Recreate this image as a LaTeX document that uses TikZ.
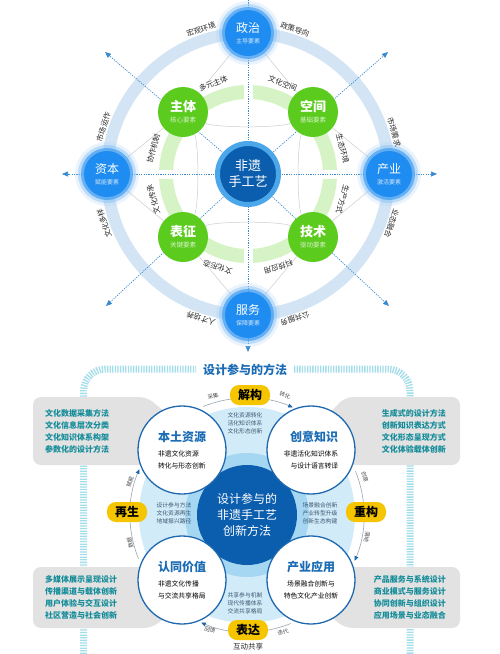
\documentclass[tikz,border=0pt]{standalone}
\usepackage{fontspec}
\setmainfont{Noto Sans CJK SC}
\usetikzlibrary{arrows.meta,calc,backgrounds}
\definecolor{ringblue}{HTML}{D3E5F5}
\definecolor{ringgreen}{HTML}{D6F3C6}
\definecolor{nodeblue}{HTML}{1E8CF0}
\definecolor{nodegreen}{HTML}{5BCB1E}
\definecolor{darkblue}{HTML}{0B5DAE}
\definecolor{midblue}{HTML}{4BA6EA}
\definecolor{axisblue}{HTML}{3A8AD0}
\definecolor{thingrey}{HTML}{C9CED3}
\definecolor{lblcol}{HTML}{2A2A2A}
\definecolor{stripecol}{HTML}{A4DDEA}
\definecolor{boxgrey}{HTML}{E2E2E2}
\definecolor{boxtext}{HTML}{138C99}
\definecolor{paleblue}{HTML}{D2EBF9}
\definecolor{ringmid}{HTML}{A5D6F2}
\definecolor{circblue}{HTML}{1D68AE}
\definecolor{pillcol}{HTML}{F5C500}
\definecolor{titleblue}{HTML}{1B6CB5}
\definecolor{smalltxt}{HTML}{3C5770}
\definecolor{arcgrey}{HTML}{9AA6B0}
\newcommand\glownode[5]{%
  \fill[nodeblue!40, opacity=.22] (#2,#3) circle[radius=32];
  \fill[nodeblue!60, opacity=.4] (#2,#3) circle[radius=29];
  \fill[nodeblue!85, opacity=.7] (#2,#3) circle[radius=26];
  \node[bluenode] (#1) at (#2,#3) {\fontsize{12}{13}\selectfont #4\\[-1pt]\fontsize{6}{7}\selectfont\color{white!80!nodeblue}#5};}
\newcommand\greennd[5]{%
  \node[greennode] (#1) at (#2,#3) {\bfseries\fontsize{13}{14}\selectfont #4\\[-1pt]\mdseries\fontsize{6.5}{7}\selectfont\color{white!75!nodegreen}#5};}
\newcommand\subf{\mdseries\color{black}\fontsize{6.8}{9}\selectfont}
\newcommand\wtext[3]{\bfseries\color{titleblue}\fontsize{12}{14}\selectfont #1\\[3pt]\subf #2\\\subf #3}
\begin{document}
\begin{tikzpicture}[x=1pt,y=-1pt,
  bluenode/.style={circle,fill=nodeblue,minimum size=46pt,inner sep=0pt,text=white,align=center},
  greennode/.style={circle,fill=nodegreen,minimum size=50pt,inner sep=0pt,text=white,align=center},
  ringlbl/.style={text=lblcol,font=\fontsize{7.5}{8}\selectfont,inner sep=0pt},
  axisline/.style={axisblue,line width=0.7pt,dash pattern=on 1.2pt off 1.2pt},
  axisarrow/.style={axisline,-{Triangle[length=6pt,width=5pt]}},
  thinline/.style={thingrey,line width=0.5pt},
  boxtxt/.style={text=boxtext,font=\bfseries\fontsize{8}{12}\selectfont,inner sep=0pt},
  wcirc/.style={circle,draw=circblue,line width=1.3pt,fill=white,minimum size=88pt,inner sep=0pt},
  pillst/.style={rounded corners=9pt,fill=pillcol,minimum width=40pt,minimum height=20pt,inner sep=0pt,font=\bfseries\fontsize{12}{13}\selectfont,text=black},
  smallblk/.style={text=smalltxt,font=\fontsize{5.8}{8}\selectfont,align=center,inner sep=0pt},
  arclbl/.style={text=black!70,font=\fontsize{5.5}{6}\selectfont,inner sep=0pt},
  cyc/.style={arcgrey,line width=0.6pt,-{Triangle[length=4.5pt,width=4pt,color=circblue]}}
]
\useasboundingbox (0,0) rectangle (500,654);
\coordinate (C) at (248,174);
% ---------- top diagram nodes ----------
\glownode{zz}{248}{33}{政治}{主导要素}
\glownode{zb}{107}{174}{资本}{赋能要素}
\glownode{cy}{389}{174}{产业}{激活要素}
\glownode{fw}{248}{315}{服务}{保障要素}
\greennd{zt}{183}{112}{主体}{核心要素}
\greennd{kj}{313}{112}{空间}{基础要素}
\greennd{bz}{183}{237}{表征}{关键要素}
\greennd{js}{313}{237}{技术}{驱动要素}
\node[circle,fill=darkblue,draw=midblue,line width=5pt,minimum size=61pt,inner sep=0pt,text=white,align=center,font=\fontsize{13}{16}\selectfont] (core) at (C) {非遗\\手工艺};
\begin{scope}[on background layer]
  \fill[white] (0,0) rectangle (500,654);
  \draw[ringblue,line width=12pt] (C) circle[radius=141];
  \draw[ringgreen,line width=14pt] (C) circle[radius=82];
  \draw[white,line width=9pt] (248,84) -- (248,100);
  \draw[white,line width=9pt] (248,248) -- (248,264);
  \draw[white,line width=9pt] (158,174) -- (174,174);
  \draw[white,line width=9pt] (322,174) -- (338,174);
  % thin connectors
  \draw[thinline] (zz) -- (zt);
  \draw[thinline] (zz) -- (kj);
  \draw[thinline] (zb) -- (zt);
  \draw[thinline] (zb) -- (bz);
  \draw[thinline] (cy) -- (kj);
  \draw[thinline] (cy) -- (js);
  \draw[thinline] (fw) -- (bz);
  \draw[thinline] (fw) -- (js);
  \draw[thinline] (zt) .. controls (215,128) and (281,128) .. (kj);
  \draw[thinline] (bz) .. controls (215,221) and (281,221) .. (js);
  \draw[thinline] (zt) .. controls (199,143) and (199,206) .. (bz);
  \draw[thinline] (kj) .. controls (297,143) and (297,206) .. (js);
  % axes
  \coordinate (topend) at (248,0);
  \coordinate (downtip) at (248,352);
  \coordinate (lefttip) at (62,174);
  \coordinate (righttip) at (437,174);
  \coordinate (dtl) at (105,52);
  \coordinate (dtr) at (388,52);
  \coordinate (dbl) at (106,306);
  \coordinate (dbr) at (389,306);
  \draw[axisarrow] (topend) -- (downtip);
  \draw[axisarrow] (C) -- (lefttip);
  \draw[axisarrow] (C) -- (righttip);
  \draw[axisarrow] (C) -- (dtl);
  \draw[axisarrow] (C) -- (dtr);
  \draw[axisarrow] (C) -- (dbl);
  \draw[axisarrow] (C) -- (dbr);
\end{scope}
% ring labels
\foreach \a/\r/\t [count=\i] in {108/152/宏观环境, 72/152/政策导向, 162/152/市场运作, 199/152/文化多样, 16/152/市场需求, -19/152/业态融合, 252/152/人才培养, 288/152/公共服务, 111/97/多元主体, 69/97/文化空间, 165/98/协作机制, 195/98/文化传承, 15/98/生态环境, -15/98/生产方式, 252/98/文化形态, 288/98/科技应用}
  \node[ringlbl,rotate=\a-90] (rl\i) at ({248+\r*cos(\a)},{174-\r*sin(\a)}) {\t};
% ---------- lower diagram ----------
\draw[stripecol,line width=7pt,dash pattern=on 1.3pt off 1.3pt,rounded corners=22pt] (83.5,654) -- (83.5,369) -- (196,369);
\draw[stripecol,line width=7pt,dash pattern=on 1.3pt off 1.3pt,rounded corners=22pt] (294,369) -- (410,369) -- (410,654);
\node[text=titleblue,font=\bfseries\fontsize{12}{13}\selectfont,inner sep=0pt] (ttl) at (245,370) {设计参与的方法};
\fill[boxgrey,rounded corners=8pt] (33,397) -- (147,397) -- (172,418) -- (172,465) -- (33,465) -- cycle;
\fill[boxgrey,rounded corners=8pt] (460,397) -- (345,397) -- (325,418) -- (325,465) -- (460,465) -- cycle;
\fill[boxgrey,rounded corners=8pt] (33,567) -- (172,567) -- (172,612) -- (152,628) -- (33,628) -- cycle;
\fill[boxgrey,rounded corners=8pt] (460,567) -- (325,567) -- (325,612) -- (345,628) -- (460,628) -- cycle;
\node[boxtxt,anchor=west,align=left] (bx1) at (45,431) {文化数据采集方法\\文化信息层次分类\\文化知识体系构架\\参数化的设计方法};
\node[boxtxt,anchor=east,align=left] (bx2) at (446,431) {生成式的设计方法\\创新知识表达方式\\文化形态呈现方式\\文化体验载体创新};
\node[boxtxt,anchor=west,align=left] (bx3) at (45,597) {多媒体展示呈现设计\\传播渠道与载体创新\\用户体验与交互设计\\社区营造与社会创新};
\node[boxtxt,anchor=east,align=left] (bx4) at (446,597) {产品服务与系统设计\\商业模式与服务设计\\协同创新与组织设计\\应用场景与业态融合};
\coordinate (C2) at (247,515);
\fill[paleblue] (C2) circle[radius=108];
\foreach \s [count=\i] in {-112,-22,68,158}
  \draw[cyc] ({247+117*cos(\s)},{515+117*sin(\s)}) coordinate (as\i) arc[start angle=\s,end angle=\s+45,radius=117];
\fill[ringmid] (C2) circle[radius=62];
\node[circle,fill=darkblue,minimum size=100pt,inner sep=0pt,text=white,align=center,font=\fontsize{12}{16}\selectfont] (ctr2) at (C2) {设计参与的\\非遗手工艺\\创新方法};
\node[wcirc,align=left] (bt) at (182,450) {\wtext{本土资源}{非遗文化资源}{转化与形态创新}};
\node[wcirc,align=right] (cyzs) at (311,450) {\wtext{创意知识}{非遗活化知识体系}{与设计语言转译}};
\node[wcirc,align=left] (rtjz) at (182,580) {\wtext{认同价值}{非遗文化传播}{与交流共享格局}};
\node[wcirc,align=center] (cyyy) at (311,580) {\wtext{产业应用}{场景融合创新与}{特色文化产业创新}};
\node[smallblk] (s1) at (245,423) {文化资源转化\\活化知识体系\\文化形态创新};
\node[smallblk] (s2) at (174,513) {设计参与方法\\文化资源再生\\地域振兴路径};
\node[smallblk] (s3) at (320,513) {场景融合创新\\产业转型升级\\创新生态构建};
\node[smallblk] (s4) at (245,603) {共享参与机制\\现代传播体系\\交流共享格局};
\node[pillst] (jg) at (250,395) {解构};
\node[pillst] (zs) at (127,512) {再生};
\node[pillst] (cg) at (366,512) {重构};
\node[pillst] (bd) at (248,630) {表达};
\node[text=black!85,font=\fontsize{7.5}{8}\selectfont,inner sep=0pt] (hd) at (248,647) {互动共享};
\node[arclbl,rotate=16] (a1) at (213,396) {采集};
\node[arclbl,rotate=-17] (a2) at (285,395) {转化};
\node[arclbl,rotate=-72] (a3) at (365,477) {创意};
\node[arclbl,rotate=-100] (a4) at (367,537) {落地};
\node[arclbl,rotate=17] (a5) at (283,632) {迭代};
\node[arclbl,rotate=-18] (a6) at (210,630) {回馈};
\node[arclbl,rotate=74] (a7) at (130,482) {赋能};
\node[arclbl,rotate=103] (a8) at (130,543) {数据};
\end{tikzpicture}
\end{document}
